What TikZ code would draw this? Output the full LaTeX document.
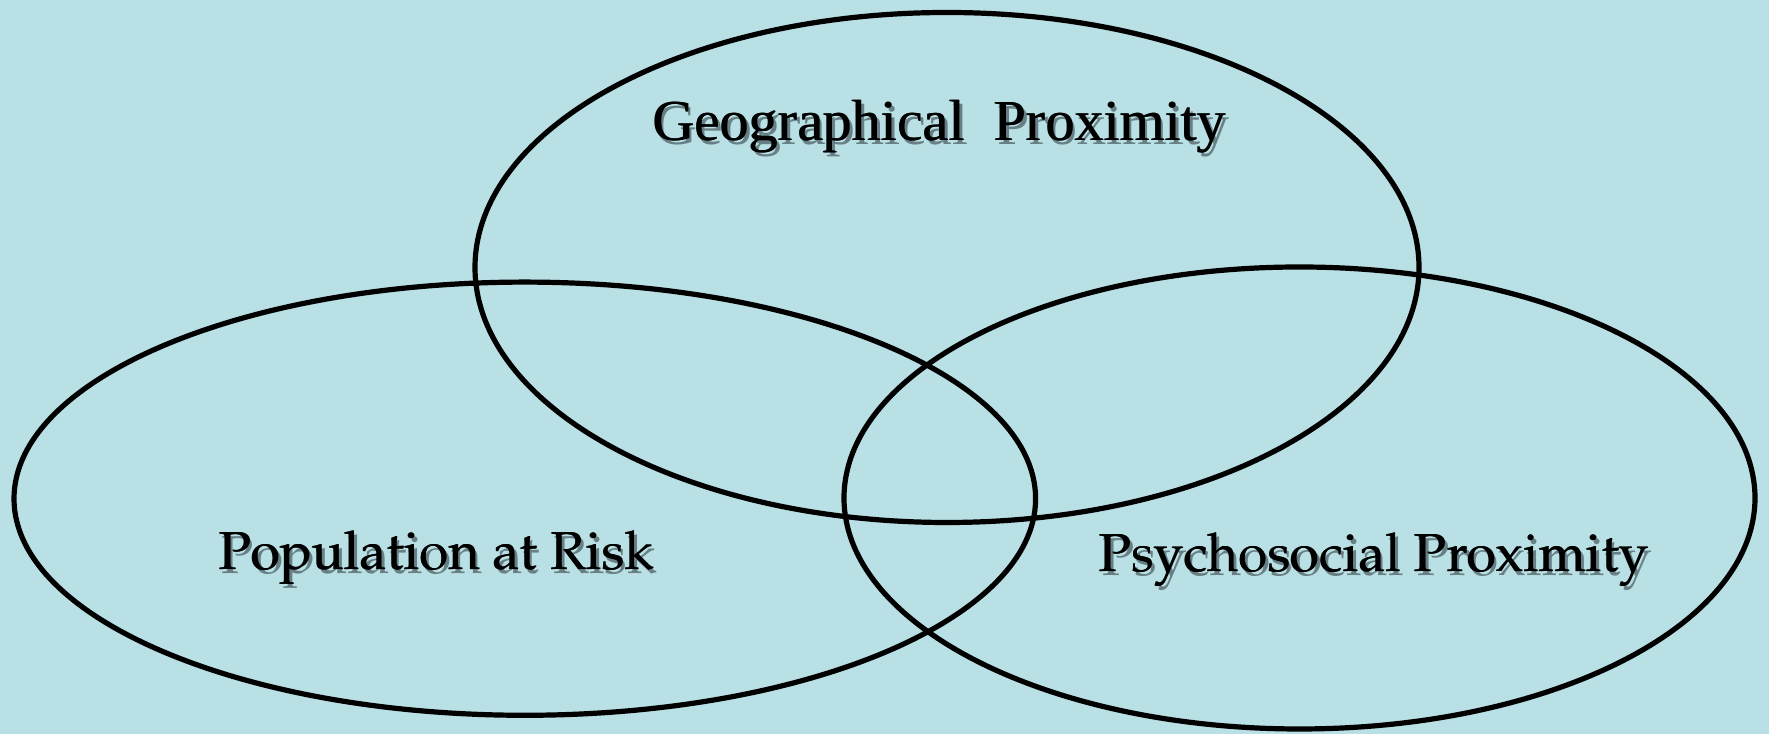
\documentclass[tikz,border=0pt]{standalone}
\usepackage[T1]{fontenc}
\usepackage{fontspec}
\setmainfont{Liberation Serif}
\newfontfamily\timesfont{Liberation Serif}
\newcommand{\palfont}{\usefont{T1}{ppl}{m}{n}}
\definecolor{bgcol}{RGB}{185,224,228}
\definecolor{shadowcol}{RGB}{50,65,70}
\tikzset{
  venn/.style={draw=black, line width=1.3pt},
  lbl/.style={anchor=base, inner sep=0pt, text=black},
  shd/.style={anchor=base, inner sep=0pt, text=shadowcol, opacity=0.6},
}
\begin{document}
\begin{tikzpicture}[x=0.25pt, y=-0.25pt]
\fill[bgcol] (0,0) rectangle (1769,734);
\useasboundingbox (0,0) rectangle (1769,734);
% ellipses
\draw[venn] (947,267.5) ellipse [x radius=472, y radius=255];
\draw[venn] (524.8,498.7) ellipse [x radius=510.8, y radius=216.6];
\draw[venn] (1299.5,498) ellipse [x radius=455.5, y radius=231];
% shadows
\node[shd] (gs) at (942.5,144.5) {\fontsize{14.5pt}{16pt}\timesfont Geographical\ \ Proximity};
\node[shd] (ps) at (439.5,573.5) {\fontsize{13.35pt}{16pt}\palfont Population at Risk};
\node[shd] (ss) at (1377,575.5) {\fontsize{13.35pt}{16pt}\palfont Psychosocial Proximity};
% labels (doubled slightly for heavier strokes)
\node[lbl] (g2) at (939.8,141) {\fontsize{14.5pt}{16pt}\timesfont Geographical\ \ Proximity};
\node[lbl] (p2) at (436.8,570) {\fontsize{13.35pt}{16pt}\palfont Population at Risk};
\node[lbl] (s2) at (1374.4,572) {\fontsize{13.35pt}{16pt}\palfont Psychosocial Proximity};
\node[lbl] (g) at (939,141) {\fontsize{14.5pt}{16pt}\timesfont Geographical\ \ Proximity};
\node[lbl] (p) at (436,570) {\fontsize{13.35pt}{16pt}\palfont Population at Risk};
\node[lbl] (s) at (1373.6,572) {\fontsize{13.35pt}{16pt}\palfont Psychosocial Proximity};
\end{tikzpicture}
\end{document}
